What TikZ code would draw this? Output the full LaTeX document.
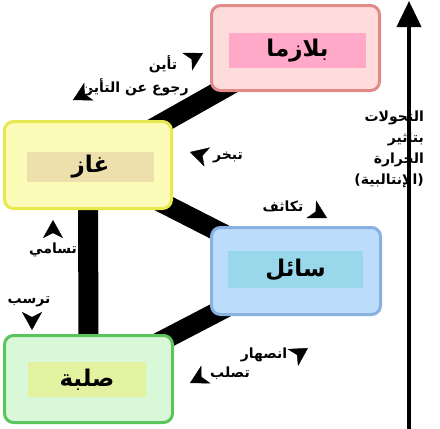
\documentclass[tikz,border=0pt]{standalone}
\usepackage{fontspec}
\usetikzlibrary{arrows.meta}
\usetikzlibrary{backgrounds}
\newfontfamily\arabicfont[Script=Arabic]{DejaVu Sans}
\TeXXeTstate=1
\definecolor{plasmaline}{HTML}{E08A8A}
\definecolor{plasmafill}{HTML}{FFDCDC}
\definecolor{plasmatag}{HTML}{FFA8C8}
\definecolor{gasline}{HTML}{E8E850}
\definecolor{gasfill}{HTML}{FCFCB8}
\definecolor{gastag}{HTML}{EDE0AC}
\definecolor{liquidline}{HTML}{88B0E0}
\definecolor{liquidfill}{HTML}{BCDCFC}
\definecolor{liquidtag}{HTML}{98D8EA}
\definecolor{solidline}{HTML}{5CC45C}
\definecolor{solidfill}{HTML}{D8F8D8}
\definecolor{solidtag}{HTML}{E2F2A0}
\tikzset{
    phase/.style={rounded corners=9pt, line width=3pt, inner sep=0pt},
    tag/.style={inner sep=0pt, font=\arabicfont\bfseries\fontsize{23}{25}\selectfont},
    lab/.style={inner sep=0pt, font=\arabicfont\bfseries\fontsize{14}{16}\selectfont},
    bond/.style={draw=black, line width=20pt},
    change/.style={draw=white, line width=0.4pt,
        -{Stealth[color=black, fill=black, length=18pt, width=20pt, inset=5pt]}},
    axis/.style={draw=black, line width=4pt,
        -{Triangle[color=black, fill=black, length=26pt, width=24pt]}},
}

\begin{document}
\begin{tikzpicture}[x=1pt, y=-1pt]
    \useasboundingbox (0,0) rectangle (440,429);
    % boxes
    \node[phase, draw=plasmaline, fill=plasmafill, minimum width=168pt, minimum height=85pt] (plasma) at (295.5,48) {};
    \node[phase, draw=gasline, fill=gasfill, minimum width=167pt, minimum height=87pt] (gas) at (88,165) {};
    \node[phase, draw=liquidline, fill=liquidfill, minimum width=169pt, minimum height=87pt] (liquid) at (296,271) {};
    \node[phase, draw=solidline, fill=solidfill, minimum width=168pt, minimum height=87pt] (solid) at (88.5,379) {};
    \node[tag, fill=plasmatag, minimum width=137pt, minimum height=35pt] (plasma-t) at (297.5,50.5) {\beginR بلازما\endR};
    \node[tag, fill=gastag, minimum width=127pt, minimum height=30pt] (gas-t) at (90.5,167) {\beginR غاز\endR};
    \node[tag, fill=liquidtag, minimum width=135pt, minimum height=37pt] (liquid-t) at (295.5,269.5) {\beginR سائل\endR};
    \node[tag, fill=solidtag, minimum width=118pt, minimum height=35pt] (solid-t) at (87,379.5) {\beginR صلبة\endR};
    \begin{scope}[on background layer]
        \draw[bond] (gas.center) -- (plasma.center);
        \draw[bond] (gas.center) -- (liquid.center);
        \draw[bond] (gas.center) -- (solid.center);
        \draw[bond] (solid.center) -- (liquid.center);
    \end{scope}
    % changes of state
    \node[lab] (ion-l) at (163,64) {\beginR تأين\endR};
    \node[lab] (deion-l) at (135,87) {\beginR رجوع عن التأين\endR};
    \node[lab] (evap-l) at (228,157) {\beginR تبخر\endR};
    \node[lab] (cond-l) at (283,206) {\beginR تكاثف\endR};
    \node[lab] (subl-l) at (53,250) {\beginR تسامي\endR};
    \node[lab] (depo-l) at (29,302) {\beginR ترسب\endR};
    \node[lab] (melt-l) at (264,355) {\beginR انصهار\endR};
    \node[lab] (frz-l) at (230,373) {\beginR تصلب\endR};
    \coordinate (ion-a) at (185,63);   \coordinate (ion-b) at (203,53);
    \coordinate (deion-a) at (92,90);  \coordinate (deion-b) at (73,100);
    \coordinate (evap-a) at (207,157); \coordinate (evap-b) at (190,152);
    \coordinate (cond-a) at (309,208); \coordinate (cond-b) at (327,218);
    \coordinate (subl-a) at (53,237);  \coordinate (subl-b) at (53,220);
    \coordinate (depo-a) at (32,312);  \coordinate (depo-b) at (32,330);
    \coordinate (melt-a) at (292,358); \coordinate (melt-b) at (308,348);
    \coordinate (frz-a) at (207,374);  \coordinate (frz-b) at (190,383);
    \foreach \s in {ion,deion,evap,cond,subl,depo,melt,frz}
        \draw[change] (\s-a) -- (\s-b);
    % heat axis
    \node[lab, align=right, anchor=north east, font=\arabicfont\bfseries\fontsize{14}{21}\selectfont] (heat-l) at (424,111)
        {\beginR التحولات\endR\\\beginR بتأثير\endR\\\beginR الحرارة\endR\\\beginR (الإنتالبية)\endR};
    \coordinate (heat-a) at (409,429);
    \coordinate (heat-b) at (409,1);
    \draw[axis] (heat-a) -- (heat-b);
\end{tikzpicture}
\end{document}
